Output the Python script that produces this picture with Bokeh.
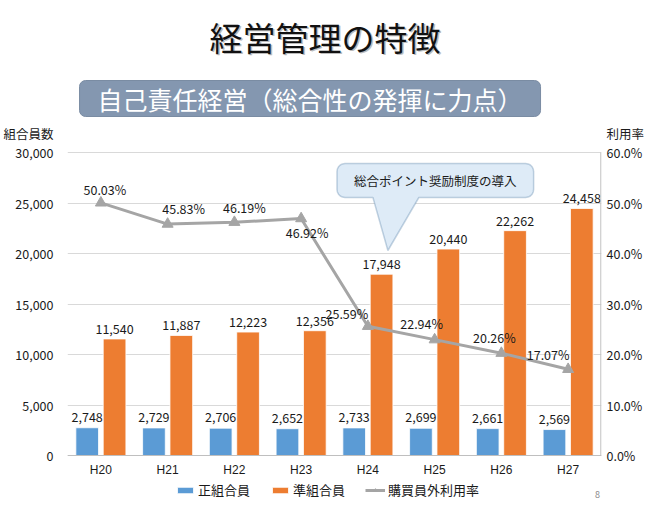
import math
from bokeh.plotting import figure
from bokeh.models import (FactorRange, Range1d, LinearAxis, Label, PolyAnnotation, BoxAnnotation,
                          Legend, LegendItem, NumeralTickFormatter, PrintfTickFormatter, FixedTicker,
                          ColumnDataSource)
from bokeh.transform import dodge
from bokeh.core.properties import value
from bokeh.embed import file_html
from bokeh.resources import INLINE

# ---------------- data ----------------
categories = ["H20", "H21", "H22", "H23", "H24", "H25", "H26", "H27"]
regular_members = [2748, 2729, 2706, 2652, 2733, 2699, 2661, 2569]
associate_members = [11540, 11887, 12223, 12356, 17948, 20440, 22262, 24458]
outside_rate = [50.03, 45.83, 46.19, 46.92, 25.59, 22.94, 20.26, 17.07]
left_ticks = [0, 5000, 10000, 15000, 20000, 25000, 30000]
right_ticks = [0, 10, 20, 30, 40, 50, 60]
series_names = ["正組合員", "準組合員", "購買員外利用率"]
title_text = "経営管理の特徴"
subtitle_text = "自己責任経営（総合性の発揮に力点）"
left_axis_title = "組合員数"
right_axis_title = "利用率"
callout_text = "総合ポイント奨励制度の導入"
page_number = "8"

# ---------------- layout / style ----------------
FONT = "Noto Sans CJK JP"
BLUE = "#5B9BD5"
ORANGE = "#ED7D31"
GREY = "#A5A5A5"
TXT = "#1a1a1a"
W, H = 650, 520
FL, FR = 66, 601          # frame left / right (px)
FB = 500                  # frame bottom (px); frame top is the canvas top
ZERO_PX, TOP_PX = 455, 152  # pixel rows of 0 and of the top tick
KPX = (ZERO_PX - TOP_PX) / left_ticks[-1]        # px per member
PCT_SCALE = right_ticks[-1] / left_ticks[-1]     # percent per member unit
CAT_W = (FR - FL) / len(categories)

rate_dx = [4, 16, 10, 6, -21, -13, -7, -20]
rate_dy = [-13, -16, -15, 14, -13, -16, -16, -15]


def xd(px):   # canvas px -> categorical data coordinate
    return (px - FL) / CAT_W


def yd(py):   # canvas px -> member-count coordinate
    return (ZERO_PX - py) / KPX


src = ColumnDataSource(dict(
    cat=categories,
    reg=regular_members,
    asc=associate_members,
    rate=outside_rate,
    reg_lbl=[f"{v:,}" for v in regular_members],
    asc_lbl=[f"{v:,}" for v in associate_members],
    rate_lbl=[f"{v:.2f}%" for v in outside_rate],
    dx=rate_dx,
    dy=rate_dy,
))

y_lo, y_hi = yd(FB), yd(0)
p = figure(width=W, height=H,
           x_range=FactorRange(*categories, range_padding=0),
           y_range=Range1d(y_lo, y_hi),
           output_backend="svg", toolbar_location=None,
           min_border_left=FL, min_border_right=W - FR, min_border_top=0, min_border_bottom=H - FB)
p.outline_line_color = None
p.background_fill_color = "white"
p.border_fill_color = "white"
p.extra_y_ranges = {"pct": Range1d(y_lo * PCT_SCALE, y_hi * PCT_SCALE)}

bw, off = 0.34, 0.205
r_reg = p.vbar(x=dodge("cat", -off, range=p.x_range), top="reg", width=bw, source=src,
               fill_color=BLUE, line_color="white", line_width=0.8)
r_asc = p.vbar(x=dodge("cat", off, range=p.x_range), top="asc", width=bw, source=src,
               fill_color=ORANGE, line_color="white", line_width=0.8)

p.text(x=dodge("cat", -off, range=p.x_range), y="reg", text="reg_lbl", source=src,
       text_align="center", text_baseline="bottom", y_offset=-6,
       text_font=value(FONT), text_font_size="12.5px", text_color=TXT)
p.text(x=dodge("cat", off, range=p.x_range), y="asc", text="asc_lbl", source=src,
       text_align="center", text_baseline="bottom", y_offset=-5,
       text_font=value(FONT), text_font_size="12.5px", text_color=TXT)

r_line = p.line(x="cat", y="rate", source=src, y_range_name="pct", line_color=GREY, line_width=3)
r_tri = p.scatter(x="cat", y="rate", source=src, y_range_name="pct", marker="triangle",
                  size=11, fill_color=GREY, line_color=GREY)
p.text(x="cat", y="rate", text="rate_lbl", source=src, y_range_name="pct",
       x_offset="dx", y_offset="dy", text_align="center", text_baseline="middle",
       text_font=value(FONT), text_font_size="12.5px", text_color=TXT)

# ---------------- axes ----------------
title_tick = 31900                      # axis-title row, just above the top tick
title_tick_pct = title_tick * PCT_SCALE

p.yaxis.ticker = FixedTicker(ticks=left_ticks + [title_tick])
p.yaxis.formatter = NumeralTickFormatter(format="0,0")
p.yaxis.major_label_overrides = {title_tick: left_axis_title}
p.yaxis.axis_line_color = None
p.yaxis.major_tick_line_color = None
p.yaxis.major_tick_out = 0
p.yaxis.minor_tick_line_color = None
p.yaxis.major_label_standoff = 14
p.yaxis.major_label_text_font = FONT
p.yaxis.major_label_text_font_size = "12.5px"
p.yaxis.major_label_text_color = TXT

ry = LinearAxis(y_range_name="pct", ticker=FixedTicker(ticks=right_ticks + [title_tick_pct]),
                formatter=PrintfTickFormatter(format="%.1f%%"))
ry.major_label_overrides = {title_tick_pct: right_axis_title}
ry.axis_line_color = None
ry.major_tick_line_color = None
ry.major_tick_out = 0
ry.minor_tick_line_color = None
ry.major_label_standoff = 5
ry.major_label_text_font = FONT
ry.major_label_text_font_size = "12.5px"
ry.major_label_text_color = TXT
p.add_layout(ry, "right")
# right axis line, only over the value span
p.add_layout(BoxAnnotation(left=len(categories) - 1.2 / CAT_W, right=len(categories),
                           bottom=0, top=left_ticks[-1], fill_color="#BFBFBF", fill_alpha=1,
                           line_color=None))

p.xaxis.fixed_location = 0
p.xaxis.axis_line_color = "#BFBFBF"
p.xaxis.major_tick_line_color = None
p.xaxis.major_tick_out = 0
p.xaxis.major_tick_in = 0
p.xaxis.minor_tick_line_color = None
p.xaxis.major_label_standoff = 7
p.xaxis.major_label_text_font = "Liberation Sans"
p.xaxis.major_label_text_font_size = "12px"
p.xaxis.major_label_text_color = TXT

p.xgrid.grid_line_color = None
p.ygrid.ticker = FixedTicker(ticks=left_ticks)
p.ygrid.grid_line_color = "#D9D9D9"
p.ygrid.grid_line_width = 1

# ---------------- texts ----------------
def lab(text, px, py, size, color=TXT, align="center", baseline="middle", **kw):
    l = Label(x=xd(px), y=yd(py), text=text, text_font=FONT, text_font_size=size,
              text_color=color, text_align=align, text_baseline=baseline, **kw)
    p.add_layout(l)
    return l

lab(title_text, 325.5, 37.5, "33px", color="#BBBBBB")
lab(title_text, 324, 36, "33px", color="#111111")
lab(subtitle_text, 309, 98, "25px", color="white",
    background_fill_color="#8497B0", border_line_color="#7A8CA3",
    padding=(18, 18, 0, 0), border_radius=6)
lab(page_number, 597, 494, "9px", color="#8C8C8C")

# ---------------- callout ----------------
L, R, T, B, rad = 336, 533, 163, 197, 8
pts = []
def arc(cx, cy, a0, a1, n=5):
    for i in range(n + 1):
        a = math.radians(a0 + (a1 - a0) * i / n)
        pts.append((cx + rad * math.cos(a), cy + rad * math.sin(a)))
arc(L + rad, T + rad, 180, 270)
arc(R - rad, T + rad, 270, 360)
arc(R - rad, B - rad, 0, 90)
pts += [(418, B), (387, 250), (372, B)]
arc(L + rad, B - rad, 90, 180)
p.add_layout(PolyAnnotation(xs=[xd(a) for a, b in pts], ys=[yd(b) for a, b in pts],
                            fill_color="#DEEBF7", fill_alpha=1,
                            line_color="#41719C", line_width=1.5))
lab(callout_text, 434.5, 180, "12.5px")

# ---------------- legend ----------------
legend = Legend(items=[LegendItem(label=series_names[0], renderers=[r_reg]),
                       LegendItem(label=series_names[1], renderers=[r_asc]),
                       LegendItem(label=series_names[2], renderers=[r_line, r_tri])],
                orientation="horizontal", location=(176 - FL - 2, 1),
                glyph_width=20, glyph_height=8, label_height=14, label_standoff=3,
                spacing=20, padding=1, margin=0,
                label_text_font=FONT, label_text_font_size="13px", label_text_color=TXT,
                border_line_color=None, background_fill_alpha=0)
p.add_layout(legend)

open("out.html", "w").write(file_html(p, INLINE))
